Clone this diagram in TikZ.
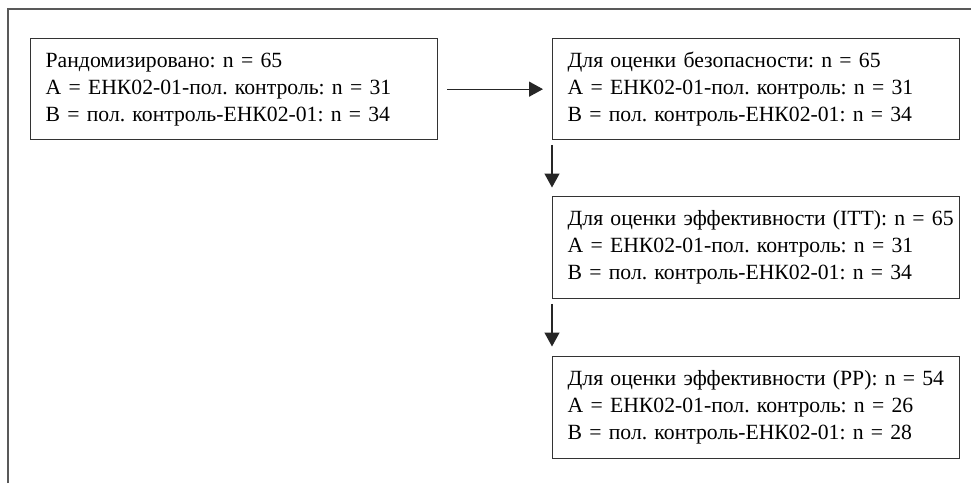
\documentclass[tikz,border=0pt]{standalone}
\usepackage{fontspec}
\setmainfont{Liberation Serif}
\usetikzlibrary{arrows.meta}
\begin{document}
\frenchspacing
\begin{tikzpicture}[x=1pt,y=-1pt,
  box/.style={draw=black!80, line width=1.3pt, anchor=north west,
    minimum width=407pt, text width=377pt, inner xsep=15pt, inner ysep=0pt,
    align=left, font=\fontsize{21.7}{27}\selectfont\frenchspacing},
  arr/.style={draw=black!85, line width=1.3pt, -{Triangle[length=14pt,width=15pt]}}]
\useasboundingbox (0,0) rectangle (971,483);
\fill[white] (0,0) rectangle (971,483);
\draw[line width=1.3pt, black!65] (8,483) coordinate (fb) -- (8,9) coordinate (fc) -- (971,9) coordinate (fr);
\node[box, minimum height=101pt] (b1) at (30,38) {Рандомизировано: n = 65\\A = ЕНК02-01-пол. контроль: n = 31\\B = пол. контроль-ЕНК02-01: n = 34};
\node[box, minimum height=101pt] (b2) at (552,38) {Для оценки безопасности: n = 65\\A = ЕНК02-01-пол. контроль: n = 31\\B = пол. контроль-ЕНК02-01: n = 34};
\node[box, minimum height=102pt] (b3) at (552,196) {\mbox{Для оценки эффективности (ITT): n = 65}\\A = ЕНК02-01-пол. контроль: n = 31\\B = пол. контроль-ЕНК02-01: n = 34};
\node[box, minimum height=102pt] (b4) at (552,356) {\mbox{Для оценки эффективности (PP): n = 54}\\A = ЕНК02-01-пол. контроль: n = 26\\B = пол. контроль-ЕНК02-01: n = 28};
\draw[arr, shorten <=9pt, shorten >=9pt] (b1.east) -- (b2.west);
\draw[arr, shorten <=4.5pt, shorten >=8.5pt] (b2.south west) -- (b3.north west);
\draw[arr, shorten <=4.5pt, shorten >=9.5pt] (b3.south west) -- (b4.north west);
\end{tikzpicture}
\end{document}
